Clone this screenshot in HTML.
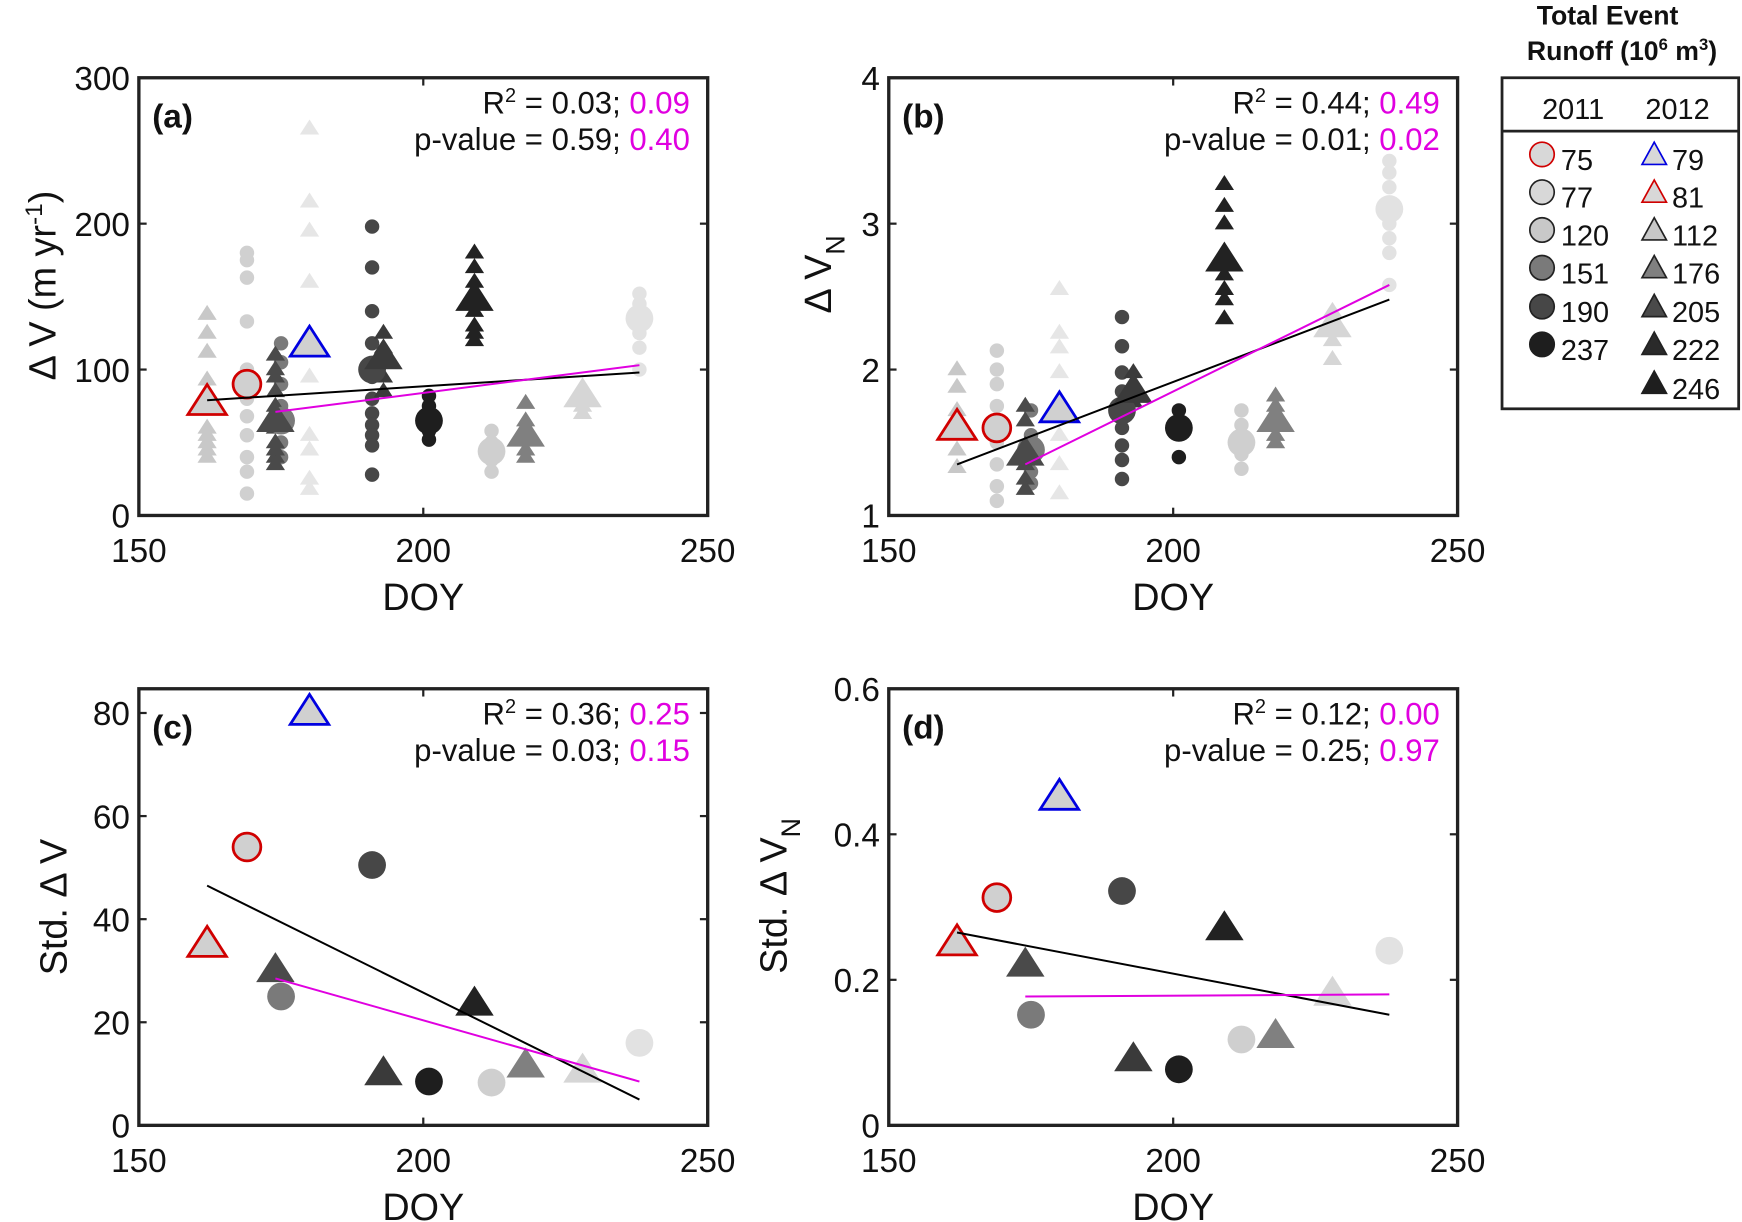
<!DOCTYPE html>
<html><head><meta charset="utf-8"><style>
html,body{margin:0;padding:0;background:#fff;}
svg{display:block;font-family:"Liberation Sans",Arial,sans-serif;}
</style></head><body>
<svg id="fig" width="1742" height="1222" viewBox="0 0 1568 1100" preserveAspectRatio="none" xmlns="http://www.w3.org/2000/svg"></svg>
<script>
// ---- data ----
const eventDoy   = [162, 169, 180, 175, 174, 191, 193, 201, 209, 212, 218, 228, 238];
const eventShape = ['t','c','t','c','t','c','t','c','t','c','t','t','c'];
const eventFill  = ['#c8c8c8','#d0d0d0','#d8d8d8','#7a7a7a','#4a4a4a','#474747','#3a3a3a','#1e1e1e','#222','#cfcfcf','#808080','#d6d6d6','#e2e2e2'];
const eventStroke= ['#d00000','#d00000','#0000e0',null,null,null,null,null,null,null,null,null,null];
const smallFill  = ['#c8c8c8','#d0d0d0','#e6e6e6','#7a7a7a','#4a4a4a','#474747','#3a3a3a','#1e1e1e','#222','#cfcfcf','#808080','#d6d6d6','#e2e2e2'];
const meanA = [77, 90, 117, 65, 65, 100, 108, 65, 148, 44, 55, 82, 135];
const meanB = [1.6, 1.6, 1.72, 1.45, 1.42, 1.72, 1.85, 1.6, 2.75, 1.5, 1.65, 2.3, 3.1];
const meanC = [35, 54, 80, 25, 30, 50.5, 10, 8.5, 23.5, 8.3, 11.5, 10.5, 16];
const meanD = [0.25, 0.313, 0.45, 0.152, 0.22, 0.322, 0.09, 0.077, 0.27, 0.118, 0.122, 0.18, 0.24];
const smallA = [
 [138,125,112,93,85,60,55,50,45,40],
 [180,175,163,133,100,80,68,55,40,30,15],
 [265,215,195,160,120,95,55,45,25,18],
 [118,105,90,75,62,50,40],
 [110,100,95,85,75,60,50,45,40,35],
 [198,170,140,118,95,80,70,62,55,48,28],
 [125,115,105,95,85],
 [82,75,68,58,52],
 [180,170,160,150,140,130,125,120],
 [58,50,38,30],
 [77,65,55,45,40],
 [88,75,70],
 [152,145,125,115,100]];
const smallB = [
 [2.0,1.88,1.72,1.45,1.33],
 [2.13,2.0,1.9,1.75,1.5,1.35,1.2,1.1],
 [2.55,2.25,2.15,1.98,1.55,1.35,1.15],
 [1.72,1.55,1.45,1.3,1.22],
 [1.75,1.65,1.35,1.25,1.18],
 [2.36,2.16,1.98,1.85,1.6,1.48,1.38,1.25],
 [1.98,1.9,1.78],
 [1.72,1.65,1.4],
 [3.27,3.12,3.0,2.65,2.55,2.48,2.35],
 [1.72,1.62,1.42,1.32],
 [1.82,1.75,1.62,1.55,1.5],
 [2.4,2.2,2.07],
 [3.43,3.35,3.25,3.0,2.9,2.8,2.58]];
const fitA = {black:[[162,79],[238,98]], mag:[[174,71],[238,103]]};
const fitB = {black:[[162,1.35],[238,2.48]], mag:[[174,1.35],[238,2.58]]};
const fitC = {black:[[162,46.5],[238,5]], mag:[[174,28.5],[238,8.5]]};
const fitD = {black:[[162,0.265],[238,0.152]], mag:[[174,0.177],[238,0.18]]};
const xTicks = [150, 200, 250];
const ticksA = [0,100,200,300], ticksB=[1,2,3,4], ticksC=[0,20,40,60,80], ticksD=[0,0.2,0.4,0.6];
const tickLabD = ['0','0.2','0.4','0.6'];
const statsA = ['0.03','0.09','0.59','0.40'], statsB=['0.44','0.49','0.01','0.02'];
const statsC = ['0.36','0.25','0.03','0.15'], statsD=['0.12','0.00','0.25','0.97'];
const legCircles = ['75','77','120','151','190','237'];
const legCircFill = ['#d8d8d8','#d8d8d8','#c8c8c8','#7a7a7a','#474747','#1e1e1e'];
const legCircStroke = ['#d00000','#222','#222','#222','#222','#1e1e1e'];
const legTris = ['79','81','112','176','205','222','246'];
const legTriFill = ['#d8d8d8','#d8d8d8','#c8c8c8','#808080','#4a4a4a','#2a2a2a','#1e1e1e'];
const legTriStroke = ['#0000e0','#d00000','#222','#222','#222','#222','#1e1e1e'];

const NS='http://www.w3.org/2000/svg';
const svg=document.getElementById('fig');
function el(tag,attrs,parent){const e=document.createElementNS(NS,tag);for(const k in attrs)e.setAttribute(k,attrs[k]);(parent||svg).appendChild(e);return e;}
function txt(s,x,y,size,parent,extra){const t=el('text',Object.assign({x:x,y:y,'font-size':size,fill:'#111'},extra||{}),parent);t.textContent=s;return t;}
function marker(g,shape,x,y,r,fill,stroke,sw){
  if(shape==='c'){return el('circle',{cx:x,cy:y,r:r,fill:fill,stroke:stroke||'none','stroke-width':sw||0},g);}
  const h=r*1.8,w=r*1.1;
  return el('polygon',{points:`${x},${y-h*0.62} ${x-w*1.05},${y+h*0.38} ${x+w*1.05},${y+h*0.38}`,fill:fill,stroke:stroke||'none','stroke-width':sw||0},g);
}
function panel(name,box,ymin,ymax,yticks,ylabs,means,smalls,fit,stats,letter,ylabel){
  const [L,T,R,B]=box;
  const g=el('g',{});
  
  
  const X=v=>L+(v-150)/100*(R-L);
  const Y=v=>B-(v-ymin)/(ymax-ymin)*(B-T);
  // ticks
  xTicks.forEach(t=>{el('line',{x1:X(t),x2:X(t),y1:B,y2:B-7,stroke:'#222','stroke-width':2},g);el('line',{x1:X(t),x2:X(t),y1:T,y2:T+7,stroke:'#222','stroke-width':2},g);
    const l=txt(String(t),X(t),B+42,30,g,{'text-anchor':'middle'});});
  yticks.forEach((t,i)=>{el('line',{x1:L,x2:L+7,y1:Y(t),y2:Y(t),stroke:'#222','stroke-width':2},g);el('line',{x1:R,x2:R-7,y1:Y(t),y2:Y(t),stroke:'#222','stroke-width':2},g);
    const l=txt(ylabs?ylabs[i]:String(t),L-8,Y(t)+11,30,g,{'text-anchor':'end'});});
  // small points
  if(smalls){smalls.forEach((arr,i)=>arr.forEach(v=>{const m=marker(g,eventShape[i],X(eventDoy[i]),Y(v),eventShape[i]==='c'?6.5:7.5,smallFill[i]);}));}
  // means (draw outlined ones last)
  const order=[...means.keys()].filter(i=>!eventStroke[i]).concat([...means.keys()].filter(i=>eventStroke[i]));
  order.forEach(i=>{const m=marker(g,eventShape[i],X(eventDoy[i]),Y(means[i]),eventShape[i]==='c'?12.5:15,eventStroke[i]?'#d0d0d0':eventFill[i],eventStroke[i],2.5);
    });
  // fits
  const fb=el('line',{x1:X(fit.black[0][0]),y1:Y(fit.black[0][1]),x2:X(fit.black[1][0]),y2:Y(fit.black[1][1]),stroke:'#000','stroke-width':1.8},g);
  
  const fm=el('line',{x1:X(fit.mag[0][0]),y1:Y(fit.mag[0][1]),x2:X(fit.mag[1][0]),y2:Y(fit.mag[1][1]),stroke:'#e000e0','stroke-width':1.8},g);
  
  // box
  const bx=el('rect',{x:L,y:T,width:R-L,height:B-T,fill:'none',stroke:'#222','stroke-width':3},g);
  
  // letter
  const lt=txt(letter,L+12,T+45,30,g,{'font-weight':'bold'});
  // stats
  const s1=el('text',{x:R-16,y:T+32,'font-size':28,'text-anchor':'end',fill:'#111'},g);
  
  s1.innerHTML=`R<tspan dy="-10" font-size="18">2</tspan><tspan dy="10"> = ${stats[0]}; </tspan><tspan fill="#e000e0">${stats[1]}</tspan>`;
  const s2=el('text',{x:R-16,y:T+65,'font-size':28,'text-anchor':'end',fill:'#111'},g);
  
  s2.innerHTML=`p-value = ${stats[2]}; <tspan fill="#e000e0">${stats[3]}</tspan>`;
  // x label
  const xl=txt('DOY',(L+R)/2,B+85,34,g,{'text-anchor':'middle'});
  // y label
  const yl=el('text',{x:0,y:0,'font-size':34,'text-anchor':'middle',fill:'#111',transform:`translate(${ylabel.x},${(T+B)/2+ylabel.dy}) rotate(-90)`},g);
  
  yl.innerHTML=ylabel.html;
}
panel('panel-a',[125,70,637,464],0,300,ticksA,null,meanA,smallA,fitA,statsA,'(a)',{x:50,dy:-10,html:'Δ V (m yr<tspan dy="-12" font-size="22">-1</tspan><tspan dy="12">)</tspan>'});
panel('panel-b',[800,70,1312,464],1,4,ticksB,null,meanB,smallB,fitB,statsB,'(b)',{x:748,dy:-20,html:'Δ V<tspan dy="12" font-size="24">N</tspan>'});
panel('panel-c',[125,620,637,1013],0,84.7,ticksC,null,meanC,null,fitC,statsC,'(c)',{x:60,dy:0,html:'Std. Δ V'});
panel('panel-d',[800,620,1312,1013],0,0.6,ticksD,tickLabD,meanD,null,fitD,statsD,'(d)',{x:708,dy:-10,html:'Std. Δ V<tspan dy="12" font-size="24">N</tspan>'});

// legend
const lg=el('g',{});


const t1=txt('Total Event',1447,22,24,lg,{'text-anchor':'middle','font-weight':'bold'});
const t2=el('text',{x:1460,y:54,'font-size':24,'text-anchor':'middle','font-weight':'bold',fill:'#111'},lg);

t2.innerHTML='Runoff (10<tspan dy="-9" font-size="15">6</tspan><tspan dy="9"> m</tspan><tspan dy="-9" font-size="15">3</tspan><tspan dy="9">)</tspan>';
el('rect',{x:1352,y:70,width:213,height:298,fill:'#fff',stroke:'#222','stroke-width':2.5},lg);
el('line',{x1:1352,x2:1565,y1:118,y2:118,stroke:'#222','stroke-width':2.5},lg);
txt('2011',1416,107,26,lg,{'text-anchor':'middle'});
txt('2012',1510,107,26,lg,{'text-anchor':'middle'});
const legY=[144,178,212,246,281,315,350];
legCircles.forEach((s,i)=>{const m=el('circle',{cx:1388,cy:legY[i]-5,r:11,fill:legCircFill[i],stroke:legCircStroke[i],'stroke-width':1.5},lg);
  
  txt(s,1405,legY[i]+9,26,lg);});
legTris.forEach((s,i)=>{const x=1489,y=legY[i]-5;const m=el('polygon',{points:`${x},${y-11} ${x-11},${y+9} ${x+11},${y+9}`,fill:legTriFill[i],stroke:legTriStroke[i],'stroke-width':1.5},lg);
  
  txt(s,1505,legY[i]+9,26,lg);});
</script>
</body></html>
